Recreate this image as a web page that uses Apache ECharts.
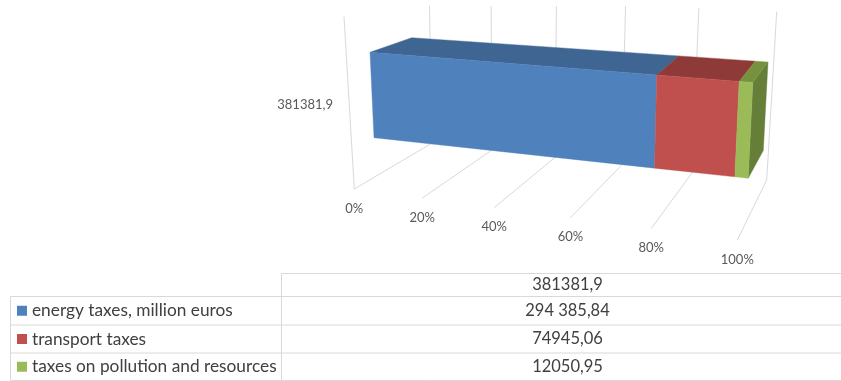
<!DOCTYPE html>
<html><head><meta charset="utf-8">
<style>html,body{margin:0;padding:0;background:#fff}#c{width:841px;height:381px}</style>
<script src="https://cdn.jsdelivr.net/npm/echarts@6/dist/echarts.min.js"></script>
</head><body><div id="c"></div>
<script>
// ---- data ----
var categoryLabel = '381381,9';
var seriesNames = ['energy taxes, million euros', 'transport taxes', 'taxes on pollution and resources'];
var seriesValues = [294385.84, 74945.06, 12050.95];
var tableValues = ['294 385,84', '74945,06', '12050,95'];
var tickValues = [0, 20, 40, 60, 80, 100];
var tickLabels = ['0%', '20%', '40%', '60%', '80%', '100%'];

// ---- style ----
var frontColors = ['#4F81BD', '#C0504D', '#9BBB59'];
var topColors = ['#3F6592', '#8E3A38', '#76923F'];
var sideColor = '#667F38';
var gridColor = '#D9D9D9';
var textColor = '#595959';
var tableText = '#404040';
var FONT = 'Lato, "Open Sans", sans-serif';

// ---- oblique 3D view: each visible plane is a perspective quad (u along value, v across) ----
function quad(p0, p1, p2, p3) {
  var dx1 = p1[0] - p2[0], dx2 = p3[0] - p2[0], sx = p0[0] - p1[0] + p2[0] - p3[0];
  var dy1 = p1[1] - p2[1], dy2 = p3[1] - p2[1], sy = p0[1] - p1[1] + p2[1] - p3[1];
  var den = dx1 * dy2 - dx2 * dy1;
  var g = (sx * dy2 - dx2 * sy) / den, h = (dx1 * sy - sx * dy1) / den;
  var a = p1[0] - p0[0] + g * p1[0], b = p3[0] - p0[0] + h * p3[0];
  var d = p1[1] - p0[1] + g * p1[1], e = p3[1] - p0[1] + h * p3[1];
  return function (u, v) {
    var w = g * u + h * v + 1;
    return [(a * u + b * v + p0[0]) / w, (d * u + e * v + p0[1]) / w];
  };
}
var FTL = [370, 52.3], FTR = [752.8, 82.5], FBR = [748.2, 178.3], FBL = [374, 137.7];
var BTL = [411.7, 37.7], BTR = [768, 62], BBR = [763.3, 150.5];
var barFront = quad(FTL, FTR, FBR, FBL);
var floorPlane = quad([354.3, 189], [737.3, 240], [766.7, 180], [432, 143]);
var wallPlane = quad([429.3, -4], [776.7, 11.7], [766.7, 180], [432, 143]);
var cropTop = 6;
// back edge of the bar's top face, at the same screen fraction as its front edge
function barBack(u) {
  var f = (barFront(u, 0)[0] - FTL[0]) / (FTR[0] - FTL[0]);
  return [BTL[0] + (BTR[0] - BTL[0]) * f, BTL[1] + (BTR[1] - BTL[1]) * f];
}

var GRID = { left: 340, top: 50, width: 400, height: 110 };
function uOf(api, value) {
  return (api.coord([value, 0])[0] - GRID.left) / GRID.width;
}
function poly(points, fill) {
  return { type: 'polygon', shape: { points: points }, style: { fill: fill, stroke: fill, lineWidth: 0.4 } };
}
function seg(a, b) {
  return { type: 'line', shape: { x1: a[0], y1: a[1], x2: b[0], y2: b[1] }, style: { stroke: gridColor, lineWidth: 1, fill: null } };
}

var total = seriesValues.reduce(function (s, v) { return s + v; }, 0);
var cum = 0;
var barSeries = seriesValues.map(function (val, i) {
  var startPct = cum / total * 100;
  cum += val;
  var endPct = cum / total * 100;
  return {
    type: 'custom', name: seriesNames[i], coordinateSystem: 'cartesian2d', z: 5, silent: true,
    data: [[startPct, endPct, 0]],
    encode: { x: [0, 1], y: 2 },
    renderItem: function (params, api) {
      var u0 = uOf(api, api.value(0)), u1 = uOf(api, api.value(1));
      var kids = [
        poly([barBack(u0), barBack(u1), barFront(u1, 0), barFront(u0, 0)], topColors[i]),
        poly([barFront(u0, 0), barFront(u1, 0), barFront(u1, 1), barFront(u0, 1)], frontColors[i])
      ];
      if (i === seriesValues.length - 1) {
        kids.unshift(poly([FTR, BTR, BBR, FBR], sideColor));
      }
      return { type: 'group', children: kids };
    }
  };
});

var gridSeries = {
  type: 'custom', name: 'grid', coordinateSystem: 'cartesian2d', z: 1, silent: true,
  data: tickValues.map(function (t, i) { return [t, 0, i]; }),
  encode: { x: 0, y: 1 },
  renderItem: function (params, api) {
    var u = uOf(api, api.value(0));
    var idx = api.value(2);
    var front = floorPlane(u, 0), back = floorPlane(u, 1);
    var wTop = wallPlane(u, 0), wBot = wallPlane(u, 1);
    if (wTop[1] < cropTop) {
      var t = (cropTop - wTop[1]) / (wBot[1] - wTop[1]);
      wTop = [wTop[0] + (wBot[0] - wTop[0]) * t, cropTop];
    }
    var kids = [seg(front, back), seg(wTop, wBot),
      { type: 'text', style: { text: tickLabels[idx], x: front[0], y: front[1] + 19.5, align: 'center', verticalAlign: 'middle', font: '13px ' + FONT, fill: textColor } }];
    if (idx === 0) kids.push(seg(front, [344, 16.7]));
    return { type: 'group', children: kids };
  }
};

// ---- data table below the plot ----
var rowLines = [273.5, 296.5, 325, 353, 380.5];
var colLeft = 10.5, colMid = 281.5, colRight = 841;
var tableGraphic = [];
function hline(y, x0) {
  tableGraphic.push({ type: 'line', silent: true, shape: { x1: x0, y1: y, x2: colRight, y2: y }, style: { stroke: gridColor, lineWidth: 1 } });
}
hline(rowLines[0], colMid);
for (var r = 1; r < rowLines.length; r++) hline(rowLines[r], colLeft);
tableGraphic.push({ type: 'line', silent: true, shape: { x1: colMid, y1: rowLines[0], x2: colMid, y2: rowLines[4] }, style: { stroke: gridColor, lineWidth: 1 } });
tableGraphic.push({ type: 'line', silent: true, shape: { x1: colLeft, y1: rowLines[1], x2: colLeft, y2: rowLines[4] }, style: { stroke: gridColor, lineWidth: 1 } });
var valueCx = 567.5;
tableGraphic.push({ type: 'text', silent: true, x: valueCx, y: (rowLines[0] + rowLines[1]) / 2, style: { text: categoryLabel, align: 'center', verticalAlign: 'middle', font: '16.5px ' + FONT, fill: tableText } });
seriesNames.forEach(function (name, i) {
  var cy = (rowLines[i + 1] + rowLines[i + 2]) / 2;
  tableGraphic.push({ type: 'rect', silent: true, shape: { x: 17, y: cy - 5, width: 10, height: 10 }, style: { fill: frontColors[i] } });
  tableGraphic.push({ type: 'text', silent: true, x: 32, y: cy, style: { text: name, align: 'left', verticalAlign: 'middle', font: '17.3px ' + FONT, fill: tableText } });
  tableGraphic.push({ type: 'text', silent: true, x: valueCx, y: cy, style: { text: tableValues[i], align: 'center', verticalAlign: 'middle', font: '16.5px ' + FONT, fill: tableText } });
});

var chart = echarts.init(document.getElementById('c'), null, { renderer: 'canvas' });
chart.setOption({
  animation: false,
  backgroundColor: '#fff',
  grid: { left: GRID.left, top: GRID.top, width: GRID.width, height: GRID.height, containLabel: false },
  xAxis: { type: 'value', min: 0, max: 100, interval: 20, show: false },
  yAxis: {
    type: 'category', data: [categoryLabel],
    axisLine: { show: false }, axisTick: { show: false }, splitLine: { show: false },
    axisLabel: { margin: 7, fontSize: 13, fontFamily: FONT, color: textColor }
  },
  graphic: tableGraphic,
  series: [gridSeries].concat(barSeries)
});
</script></body></html>
